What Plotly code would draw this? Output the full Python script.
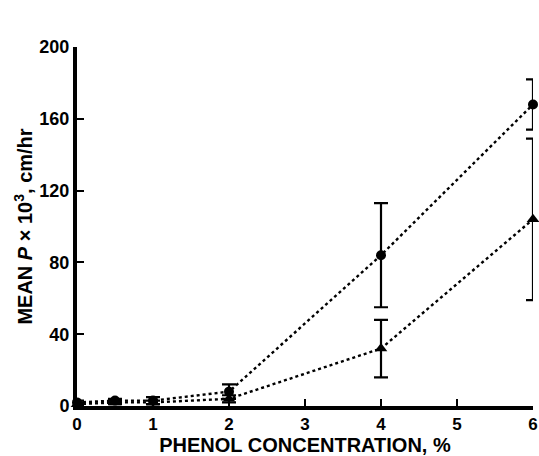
import plotly.graph_objects as go

conc = [0, 0.5, 1, 2, 4, 6]
circle_vals = [2, 3, 3, 8, 84, 168]
circle_err = [1, 1, 2, 4, 29, 14]
tri_vals = [1, 2, 2, 4, 32, 104]
tri_err = [1, 1, 1, 2, 16, 45]
x_ticks = [0, 1, 2, 3, 4, 5, 6]
y_ticks = [0, 40, 80, 120, 160, 200]

FONT = "Liberation Sans, Arial, sans-serif"

fig = go.Figure()
for vals, err, sym in [(circle_vals, circle_err, "circle"), (tri_vals, tri_err, "triangle-up")]:
    fig.add_trace(go.Scatter(
        x=conc, y=vals, mode="lines+markers",
        line=dict(color="black", width=2.4, dash="3px,3px"),
        marker=dict(symbol=sym, size=10 if sym == "circle" else 11, color="black"),
        error_y=dict(type="data", array=err, visible=True, color="black", thickness=2.2, width=7),
        cliponaxis=False, showlegend=False,
    ))

fig.update_layout(
    width=539, height=456,
    margin=dict(l=77, r=6, t=47, b=50),
    paper_bgcolor="white", plot_bgcolor="white",
    font=dict(family=FONT, color="black", size=17),
)
fig.update_xaxes(
    range=[0, 6], tickvals=x_ticks, ticks="inside", ticklen=7, tickwidth=2, tickcolor="black",
    showline=True, linewidth=4, linecolor="black", showgrid=False, zeroline=False,
    automargin=False,
    tickfont=dict(family=FONT, size=17, weight="bold"),
    title=dict(text="PHENOL CONCENTRATION, %", font=dict(family=FONT, size=20, weight="bold"), standoff=1),
)
fig.update_yaxes(
    range=[0, 200], tickvals=y_ticks, ticks="inside", ticklen=7, tickwidth=2, tickcolor="black",
    showline=True, linewidth=4, linecolor="black", showgrid=False, zeroline=False,
    automargin=False,
    tickfont=dict(family=FONT, size=18, weight="bold"),
    title=dict(text="MEAN <i>P</i> × 10<sup>3</sup>, cm/hr", font=dict(family=FONT, size=20, weight="bold"), standoff=2),
)

fig.write_html("out.html")
